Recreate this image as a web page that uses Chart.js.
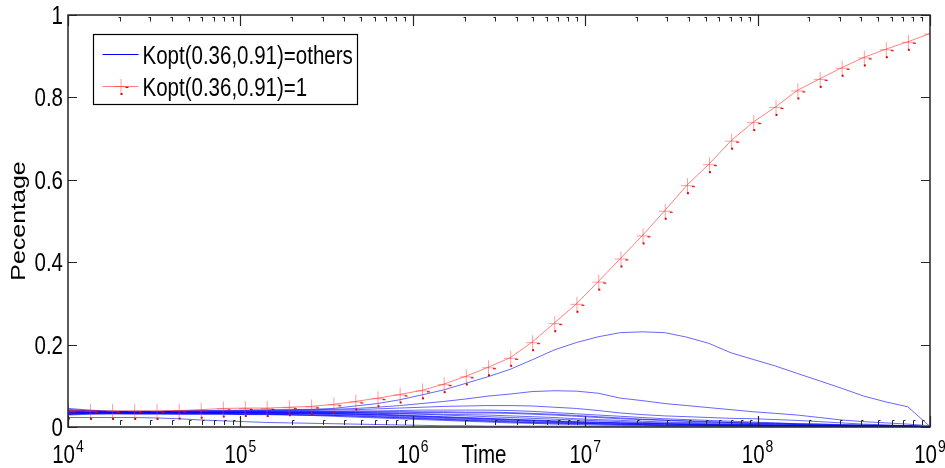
<!DOCTYPE html>
<html>
<head>
<meta charset="utf-8">
<script src="https://cdn.jsdelivr.net/npm/chart.js@4.4.1/dist/chart.umd.min.js"></script>
<style>
  html, body { margin: 0; padding: 0; background: #fff; }
  canvas { display: block; }
</style>
</head>
<body>
<canvas id="chart" width="945" height="468"></canvas>
<script>
// sample times (log spaced, 10^4 .. 10^9)
const times = [1.00e4, 1.34e4, 1.80e4, 2.42e4, 3.26e4, 4.38e4, 5.88e4, 7.90e4,
  1.06e5, 1.42e5, 1.91e5, 2.57e5, 3.46e5, 4.64e5, 6.24e5, 8.38e5,
  1.13e6, 1.51e6, 2.03e6, 2.73e6, 3.67e6, 4.92e6, 6.61e6, 8.89e6,
  1.19e7, 1.60e7, 2.15e7, 2.89e7, 3.89e7, 5.22e7, 7.02e7, 9.43e7,
  1.27e8, 1.70e8, 2.29e8, 3.07e8, 4.13e8, 5.54e8, 7.44e8, 1.00e9];

// Kopt(0.36,0.91)=1
const optimal = [0.040, 0.039, 0.039, 0.039, 0.039, 0.040, 0.042, 0.045,
  0.046, 0.046, 0.048, 0.050, 0.055, 0.062, 0.070, 0.079,
  0.089, 0.104, 0.123, 0.145, 0.168, 0.206, 0.252, 0.299,
  0.353, 0.409, 0.465, 0.525, 0.587, 0.638, 0.695, 0.740,
  0.777, 0.817, 0.845, 0.872, 0.897, 0.917, 0.935, 0.955];

// Kopt(0.36,0.91)=others
const other1 = [0.038, 0.038, 0.038, 0.038, 0.038, 0.039, 0.040, 0.040,
  0.041, 0.042, 0.042, 0.043, 0.045, 0.051, 0.057, 0.066,
  0.078, 0.090, 0.106, 0.122, 0.140, 0.163, 0.187, 0.205,
  0.219, 0.229, 0.231, 0.229, 0.218, 0.203, 0.180, 0.164,
  0.148, 0.130, 0.112, 0.094, 0.075, 0.061, 0.049, 0.001];
const other2 = [0.040, 0.039, 0.038, 0.038, 0.038, 0.038, 0.039, 0.039,
  0.040, 0.040, 0.041, 0.042, 0.043, 0.045, 0.048, 0.052,
  0.057, 0.062, 0.068, 0.075, 0.080, 0.086, 0.088, 0.087,
  0.082, 0.070, 0.064, 0.057, 0.052, 0.047, 0.042, 0.037,
  0.033, 0.029, 0.023, 0.017, 0.013, 0.010, 0.007, 0.003];
const other3 = [0.034, 0.036, 0.037, 0.037, 0.037, 0.038, 0.038, 0.038,
  0.039, 0.039, 0.040, 0.040, 0.041, 0.042, 0.044, 0.046,
  0.048, 0.050, 0.051, 0.052, 0.052, 0.051, 0.048, 0.045,
  0.040, 0.034, 0.030, 0.027, 0.025, 0.023, 0.021, 0.020,
  0.018, 0.016, 0.013, 0.010, 0.007, 0.005, 0.003, 0.001];
const other4 = [0.045, 0.041, 0.038, 0.037, 0.037, 0.037, 0.037, 0.037,
  0.037, 0.038, 0.038, 0.038, 0.038, 0.039, 0.039, 0.040,
  0.041, 0.041, 0.041, 0.041, 0.040, 0.038, 0.035, 0.032,
  0.029, 0.026, 0.023, 0.020, 0.018, 0.016, 0.014, 0.012,
  0.010, 0.008, 0.007, 0.005, 0.004, 0.003, 0.002, 0.001];
const other5 = [0.030, 0.034, 0.036, 0.036, 0.036, 0.036, 0.036, 0.036,
  0.036, 0.036, 0.036, 0.036, 0.036, 0.036, 0.036, 0.036,
  0.035, 0.035, 0.034, 0.034, 0.033, 0.031, 0.029, 0.026,
  0.023, 0.020, 0.018, 0.016, 0.014, 0.012, 0.011, 0.009,
  0.008, 0.006, 0.005, 0.004, 0.003, 0.002, 0.002, 0.001];
const other6 = [0.043, 0.039, 0.036, 0.035, 0.035, 0.035, 0.035, 0.035,
  0.035, 0.035, 0.035, 0.035, 0.034, 0.034, 0.033, 0.032,
  0.031, 0.029, 0.027, 0.025, 0.023, 0.021, 0.019, 0.017,
  0.015, 0.013, 0.011, 0.010, 0.009, 0.008, 0.007, 0.006,
  0.005, 0.004, 0.004, 0.003, 0.003, 0.002, 0.002, 0.001];
const other7 = [0.032, 0.034, 0.034, 0.034, 0.034, 0.034, 0.034, 0.034,
  0.034, 0.033, 0.033, 0.033, 0.032, 0.031, 0.030, 0.028,
  0.026, 0.024, 0.022, 0.020, 0.018, 0.016, 0.014, 0.012,
  0.011, 0.010, 0.009, 0.008, 0.007, 0.006, 0.005, 0.005,
  0.004, 0.004, 0.003, 0.003, 0.003, 0.002, 0.002, 0.001];
const other8 = [0.036, 0.035, 0.034, 0.033, 0.033, 0.033, 0.033, 0.033,
  0.033, 0.032, 0.032, 0.031, 0.030, 0.029, 0.027, 0.025,
  0.023, 0.021, 0.019, 0.017, 0.015, 0.013, 0.011, 0.010,
  0.008, 0.007, 0.006, 0.005, 0.005, 0.004, 0.004, 0.004,
  0.003, 0.003, 0.003, 0.003, 0.002, 0.002, 0.002, 0.001];
const other9 = [0.034, 0.033, 0.033, 0.032, 0.032, 0.032, 0.032, 0.032,
  0.031, 0.031, 0.030, 0.029, 0.028, 0.026, 0.024, 0.022,
  0.020, 0.018, 0.016, 0.014, 0.012, 0.010, 0.009, 0.008,
  0.007, 0.006, 0.005, 0.004, 0.004, 0.004, 0.003, 0.003,
  0.003, 0.003, 0.003, 0.002, 0.002, 0.002, 0.002, 0.001];
const other10 = [0.031, 0.032, 0.032, 0.032, 0.032, 0.031, 0.031, 0.031,
  0.030, 0.030, 0.029, 0.028, 0.026, 0.024, 0.022, 0.020,
  0.018, 0.016, 0.014, 0.012, 0.010, 0.009, 0.007, 0.006,
  0.005, 0.004, 0.004, 0.003, 0.003, 0.003, 0.003, 0.002,
  0.002, 0.002, 0.002, 0.002, 0.002, 0.002, 0.001, 0.001];
const other11 = [0.023, 0.023, 0.023, 0.023, 0.022, 0.020, 0.017, 0.015,
  0.013, 0.011, 0.010, 0.009, 0.008, 0.007, 0.006, 0.005,
  0.004, 0.003, 0.003, 0.002, 0.002, 0.002, 0.002, 0.002,
  0.002, 0.002, 0.002, 0.002, 0.002, 0.002, 0.002, 0.002,
  0.002, 0.002, 0.002, 0.002, 0.002, 0.001, 0.001, 0.001];
const other12 = [0.037, 0.036, 0.035, 0.035, 0.035, 0.035, 0.034, 0.034,
  0.034, 0.034, 0.033, 0.033, 0.032, 0.031, 0.029, 0.027,
  0.025, 0.023, 0.021, 0.019, 0.017, 0.015, 0.013, 0.011,
  0.010, 0.009, 0.008, 0.007, 0.006, 0.005, 0.005, 0.004,
  0.004, 0.003, 0.003, 0.003, 0.002, 0.002, 0.002, 0.001];
const other13 = [0.033, 0.034, 0.035, 0.035, 0.035, 0.035, 0.035, 0.035,
  0.035, 0.035, 0.034, 0.034, 0.033, 0.032, 0.031, 0.029,
  0.027, 0.025, 0.023, 0.021, 0.019, 0.017, 0.015, 0.013,
  0.012, 0.010, 0.009, 0.008, 0.007, 0.006, 0.006, 0.005,
  0.005, 0.004, 0.004, 0.003, 0.003, 0.003, 0.002, 0.001];
const other14 = [0.035, 0.035, 0.036, 0.036, 0.036, 0.036, 0.036, 0.036,
  0.037, 0.037, 0.037, 0.037, 0.037, 0.037, 0.037, 0.037,
  0.037, 0.037, 0.036, 0.036, 0.035, 0.033, 0.031, 0.028,
  0.025, 0.022, 0.019, 0.017, 0.015, 0.013, 0.011, 0.010,
  0.009, 0.008, 0.007, 0.006, 0.005, 0.004, 0.003, 0.001];
const other15 = [0.029, 0.031, 0.032, 0.032, 0.032, 0.032, 0.032, 0.032,
  0.031, 0.031, 0.030, 0.029, 0.028, 0.027, 0.025, 0.023,
  0.021, 0.019, 0.017, 0.015, 0.013, 0.011, 0.010, 0.009,
  0.008, 0.007, 0.006, 0.005, 0.005, 0.004, 0.004, 0.004,
  0.003, 0.003, 0.003, 0.003, 0.002, 0.002, 0.002, 0.001];
const other16 = [0.039, 0.037, 0.036, 0.036, 0.036, 0.036, 0.036, 0.036,
  0.036, 0.036, 0.036, 0.036, 0.035, 0.035, 0.034, 0.033,
  0.032, 0.031, 0.030, 0.029, 0.027, 0.025, 0.023, 0.020,
  0.018, 0.016, 0.014, 0.012, 0.011, 0.010, 0.009, 0.008,
  0.007, 0.006, 0.005, 0.004, 0.004, 0.003, 0.002, 0.001];
const others = [other1, other2, other3, other4, other5, other6, other7, other8,
  other9, other10, other11, other12, other13, other14, other15, other16];

const yTicks = [0, 0.2, 0.4, 0.6, 0.8, 1];
const decades = [4, 5, 6, 7, 8, 9];

const FONT = '"Liberation Sans", Arial, sans-serif';
const AXIS = '#262626';

// text in the original export is squeezed horizontally
function txt(ctx, s, x, y, size, align) {
  ctx.save();
  ctx.translate(x, y);
  ctx.scale(0.82, 1);
  ctx.font = size + 'px ' + FONT;
  ctx.textAlign = align || 'left';
  ctx.fillText(s, 0, 0);
  ctx.restore();
}
function txtWidth(ctx, s, size) {
  ctx.save();
  ctx.font = size + 'px ' + FONT;
  const w = ctx.measureText(s).width * 0.82;
  ctx.restore();
  return w;
}

// '+' marker with the small offset dots seen in the original export
function crossMarker(size) {
  const c = document.createElement('canvas');
  c.width = 24; c.height = 24;
  const g = c.getContext('2d');
  g.strokeStyle = 'rgba(255,40,40,0.45)';
  g.lineWidth = 1;
  g.beginPath();
  g.moveTo(12 - size, 12.5); g.lineTo(12 + size + 1, 12.5);
  g.moveTo(12.5, 12 - size - 1); g.lineTo(12.5, 12 + size + 2);
  g.stroke();
  g.fillStyle = '#e00000';
  g.fillRect(12, 19, 2, 2);
  g.fillRect(17, 13, 3, 1);
  return c;
}
const marker = crossMarker(6);

const pts = vals => times.map((t, i) => ({ x: t, y: vals[i] }));

const datasets = others.map(v => ({
  label: 'Kopt(0.36,0.91)=others',
  data: pts(v),
  borderColor: 'rgba(0,0,255,0.6)',
  borderWidth: 1,
  pointRadius: 0,
  tension: 0,
  order: 1
}));
datasets.push({
  label: 'Kopt(0.36,0.91)=1',
  data: pts(optimal),
  borderColor: 'rgba(255,0,0,0.5)',
  borderWidth: 1,
  pointStyle: marker,
  pointRadius: 6,
  tension: 0,
  order: 0
});

const matlabAxes = {
  id: 'matlabAxes',
  afterDraw(chart) {
    const { ctx, chartArea: a, scales: { x, y } } = chart;
    ctx.save();

    // box
    ctx.strokeStyle = AXIS;
    ctx.lineWidth = 1.5;
    ctx.strokeRect(a.left, a.top, a.right - a.left, a.bottom - a.top);

    // y ticks, inward on both sides
    ctx.lineWidth = 1.2;
    ctx.beginPath();
    yTicks.forEach(v => {
      const py = Math.round(y.getPixelForValue(v)) + 0.5;
      ctx.moveTo(a.left, py); ctx.lineTo(a.left + 9, py);
      ctx.moveTo(a.right, py); ctx.lineTo(a.right - 9, py);
    });
    // x major ticks
    decades.forEach(k => {
      const px = Math.round(x.getPixelForValue(Math.pow(10, k))) + 0.5;
      ctx.moveTo(px, a.bottom); ctx.lineTo(px, a.bottom - 11);
      ctx.moveTo(px, a.top); ctx.lineTo(px, a.top + 11);
    });
    ctx.stroke();

    // x minor ticks (small hooked marks)
    ctx.lineWidth = 1;
    ctx.beginPath();
    decades.slice(0, -1).forEach(k => {
      for (let m = 2; m <= 9; m++) {
        const px = Math.round(x.getPixelForValue(m * Math.pow(10, k))) + 0.5;
        ctx.moveTo(px, a.bottom - 2); ctx.lineTo(px, a.bottom - 6.5);
        ctx.lineTo(px + 2, a.bottom - 6.5);
        ctx.moveTo(px, a.top + 2); ctx.lineTo(px, a.top + 6.5);
        ctx.moveTo(px - 2, a.top + 2.5); ctx.lineTo(px, a.top + 2.5);
      }
    });
    ctx.stroke();

    ctx.fillStyle = '#000';
    ctx.textBaseline = 'alphabetic';

    // y tick labels
    yTicks.forEach(v => {
      const py = y.getPixelForValue(v);
      txt(ctx, String(v), a.left - 5, py + 9, 25, 'right');
    });

    // x tick labels 10^k
    decades.forEach(k => {
      const px = x.getPixelForValue(Math.pow(10, k));
      const w1 = txtWidth(ctx, '10', 25);
      const w2 = txtWidth(ctx, String(k), 17);
      const x0 = px - (w1 + w2 + 1) / 2;
      txt(ctx, '10', x0, a.bottom + 36, 25);
      txt(ctx, String(k), x0 + w1 + 1, a.bottom + 25, 17);
    });

    // x title
    txt(ctx, 'Time', (a.left + a.right) / 2 - 15, a.bottom + 36, 25, 'center');

    // y title
    ctx.save();
    ctx.translate(25, (a.top + a.bottom) / 2);
    ctx.rotate(-Math.PI / 2);
    ctx.scale(1.25, 1);
    ctx.font = '20px ' + FONT;
    ctx.textAlign = 'center';
    ctx.fillText('Pecentage', 0, 0);
    ctx.restore();

    // legend inside the axes
    const lx = a.left + 25.5, ly = a.top + 19.5, lw = 264, lh = 70;
    ctx.fillStyle = '#fff';
    ctx.fillRect(lx, ly, lw, lh);
    ctx.strokeStyle = '#000';
    ctx.lineWidth = 1.2;
    ctx.strokeRect(lx, ly, lw, lh);
    const entries = [];
    chart.data.datasets.forEach(ds => {
      if (!entries.find(e => e.label === ds.label)) entries.push(ds);
    });
    const rows = [ly + 19, ly + 51];
    entries.forEach((ds, i) => {
      const ry = Math.round(rows[i]) + 0.5;
      ctx.strokeStyle = ds.pointRadius ? ds.borderColor : 'rgb(0,0,255)';
      ctx.lineWidth = 1;
      ctx.beginPath();
      ctx.moveTo(lx + 9, ry); ctx.lineTo(lx + 45, ry);
      ctx.stroke();
      if (ds.pointRadius) {
        ctx.drawImage(ds.pointStyle, lx + 27 - 12, ry - 12.5);
      }
      ctx.fillStyle = '#000';
      txt(ctx, ds.label, lx + 49, ry + 9.5, 25);
    });

    ctx.restore();
  }
};

new Chart(document.getElementById('chart'), {
  type: 'line',
  data: { datasets },
  options: {
    responsive: false,
    animation: false,
    devicePixelRatio: 1,
    events: [],
    layout: { padding: { top: 15, right: 15, bottom: 41, left: 0 } },
    plugins: { legend: { display: false }, tooltip: { enabled: false } },
    scales: {
      x: {
        type: 'logarithmic',
        min: 1e4,
        max: 1e9,
        grid: { display: false },
        border: { display: false },
        ticks: { display: false },
        afterFit: s => { s.height = 0; }
      },
      y: {
        min: 0,
        max: 1,
        grid: { display: false, drawTicks: false },
        border: { display: false },
        afterBuildTicks: s => { s.ticks = yTicks.map(v => ({ value: v })); },
        afterFit: s => { s.width = 68; },
        ticks: { display: false }
      }
    }
  },
  plugins: [matlabAxes]
});
</script>
</body>
</html>
